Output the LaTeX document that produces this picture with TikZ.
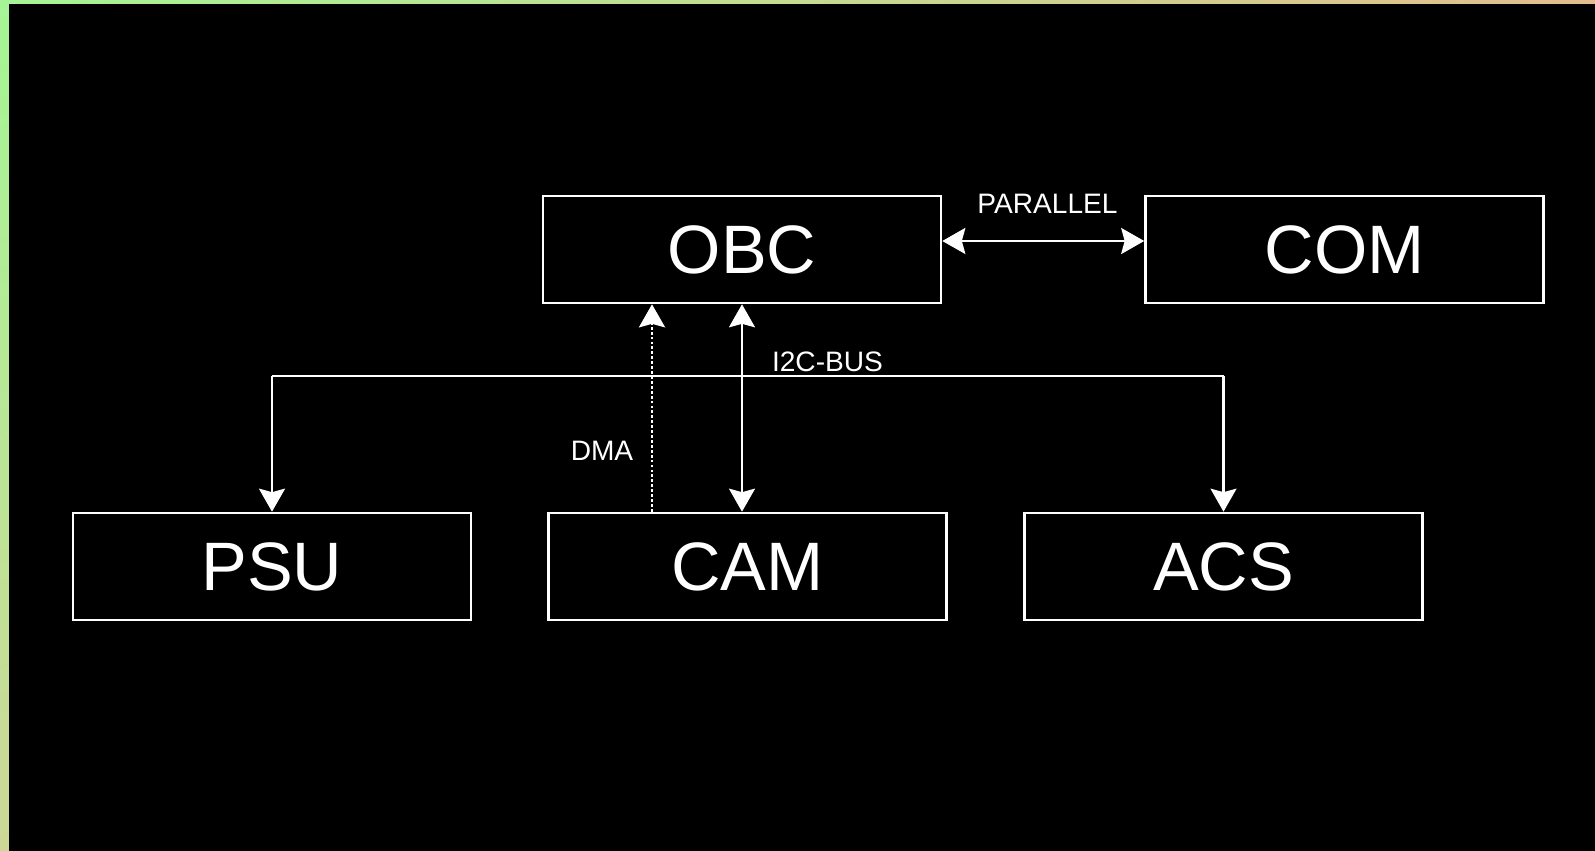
\documentclass[tikz,border=0pt]{standalone}
\usepackage{fontspec}
\setmainfont{Liberation Sans}
\usepackage{tikz}
\usetikzlibrary{arrows.meta, positioning, calc, shadings}
\definecolor{frameA}{RGB}{165,245,150}
\definecolor{frameB}{RGB}{226,190,140}
\definecolor{frameC}{RGB}{205,215,150}
\definecolor{frameD}{RGB}{235,180,145}
\tikzset{unit/.style={rectangle,draw=white,line width=1.5pt,text=white,minimum width=7.96cm,minimum height=2.14cm,font=\fontsize{39}{42}\selectfont},
         buslabel/.style={text=white,inner sep=0pt,font=\fontsize{16}{18}\selectfont},
         bus/.style={draw=white,line width=1pt},
         tip/.style={Stealth[length=0.46cm,width=0.52cm,inset=0.07cm]},
         arrow/.style={-{Stealth[length=0.46cm,width=0.52cm,inset=0.07cm]},white,line width=1.3pt},
         dblarrow/.style={{Stealth[length=0.46cm,width=0.52cm,inset=0.07cm]}-{Stealth[length=0.46cm,width=0.52cm,inset=0.07cm]},white,line width=1.3pt},
         dma/.style={arrow,line width=1.6pt,dash pattern=on 1.6pt off 1.2pt}}

\begin{document}
\begin{tikzpicture}
    \useasboundingbox (0,0) rectangle (31.9,17);
    \shade[upper left=frameA,upper right=frameB,lower left=frameC,lower right=frameD] (0,0) rectangle (31.9,17);
    \fill[black] (0.17,-0.2) rectangle (32.1,16.92);
    \node (obc) [unit] at (14.84,12.01) {OBC};
    \node (com) [unit] at (26.89,12.01) {COM};
    \node (psu) [unit] at (5.44,5.67) {PSU};
    \node (cam) [unit] at (14.95,5.67) {CAM};
    \node (acs) [unit] at (24.47,5.67) {ACS};
    \coordinate (busL) at (5.44,9.48);
    \coordinate (busR) at (24.47,9.48);
    \coordinate (dmatop) at ([xshift=-1.8cm]obc.south);
    \node (par) [buslabel] at (20.95,12.92) {PARALLEL};
    \node (i2c) [buslabel] at (16.55,9.77) {I2C-BUS};
    \node (dmalbl) [buslabel] at (12.04,7.98) {DMA};
    \draw[dblarrow] ([yshift=0.17cm]obc.east) -- ([yshift=0.17cm]com.west);
    \draw[bus] (busL) -- (busR);
    \draw[arrow] (busL) -- (psu.north);
    \draw[arrow] (busR) -- (acs.north);
    \draw[dblarrow] (obc.south) -- (obc.south |- cam.north);
    \draw[dma] (dmatop |- cam.north) -- (dmatop);
\end{tikzpicture}
\end{document}
